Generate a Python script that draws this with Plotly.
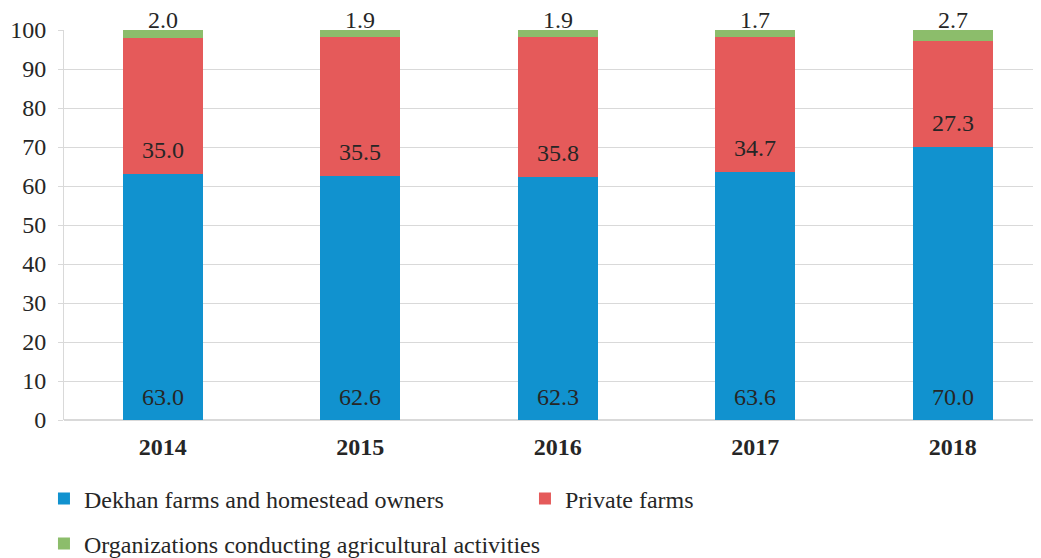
import plotly.graph_objects as go

years = ["2014", "2015", "2016", "2017", "2018"]
dekhan = [63.0, 62.6, 62.3, 63.6, 70.0]
private = [35.0, 35.5, 35.8, 34.7, 27.3]
orgs = [2.0, 1.9, 1.9, 1.7, 2.7]

names = ["Dekhan farms and homestead owners", "Private farms",
         "Organizations conducting agricultural activities"]
colors = ["#1192CF", "#E55A5A", "#8CBD6B"]
FONT = "Liberation Serif"
TXT = "#262626"
FS = 24

fig = go.Figure()
for vals, name, col, leg in zip([dekhan, private, orgs], names, colors, ["legend", "legend", "legend2"]):
    fig.add_trace(go.Bar(x=years, y=vals, name=name, marker=dict(color=col, line=dict(width=0)),
                         width=0.405, legend=leg, hoverinfo="skip"))

for i, y in enumerate(years):
    top = round(dekhan[i] + private[i] + orgs[i], 6)
    for yy, txt, sh in [(0, dekhan[i], 23),
                        (dekhan[i], private[i], 24),
                        (top, orgs[i], 10)]:
        fig.add_annotation(x=i, y=yy, text=f"{txt:.1f}", yshift=sh, xref="x", yref="y",
                           showarrow=False, yanchor="middle", xanchor="center",
                           font=dict(family=FONT, size=FS, color=TXT))

fig.update_layout(
    barmode="stack",
    width=1033, height=550,
    margin=dict(l=56, r=0, t=22, b=138, autoexpand=False),
    paper_bgcolor="white", plot_bgcolor="white",
    font=dict(family=FONT, size=FS, color=TXT),
    showlegend=True,
    legend=dict(orientation="h", x=-0.0205, xanchor="left", y=-0.2026, yanchor="middle",
                entrywidth=436, entrywidthmode="pixels", font=dict(family=FONT, size=FS, color=TXT),
                itemwidth=30, traceorder="normal", bgcolor="rgba(0,0,0,0)"),
    legend2=dict(orientation="h", x=-0.0205, xanchor="left", y=-0.318, yanchor="middle",
                 font=dict(family=FONT, size=FS, color=TXT), itemwidth=30, bgcolor="rgba(0,0,0,0)"),
    xaxis=dict(type="category", range=[-0.5, 4.447], showgrid=False, showline=False, ticks="",
               automargin=False,
               tickfont=dict(family=FONT, size=FS, color=TXT, weight="bold"),
               ticklabelstandoff=10),
    yaxis=dict(range=[0, 100], dtick=10, showgrid=True, gridcolor="#D9D9D9", gridwidth=1,
               showline=True, linecolor="#D9D9D9", linewidth=1, ticks="outside", ticklen=5,
               tickcolor="#D9D9D9", zeroline=True, zerolinecolor="#D9D9D9", automargin=False,
               ticklabelstandoff=7,
               tickfont=dict(family=FONT, size=FS, color=TXT)),
)
fig.write_html("out.html")
